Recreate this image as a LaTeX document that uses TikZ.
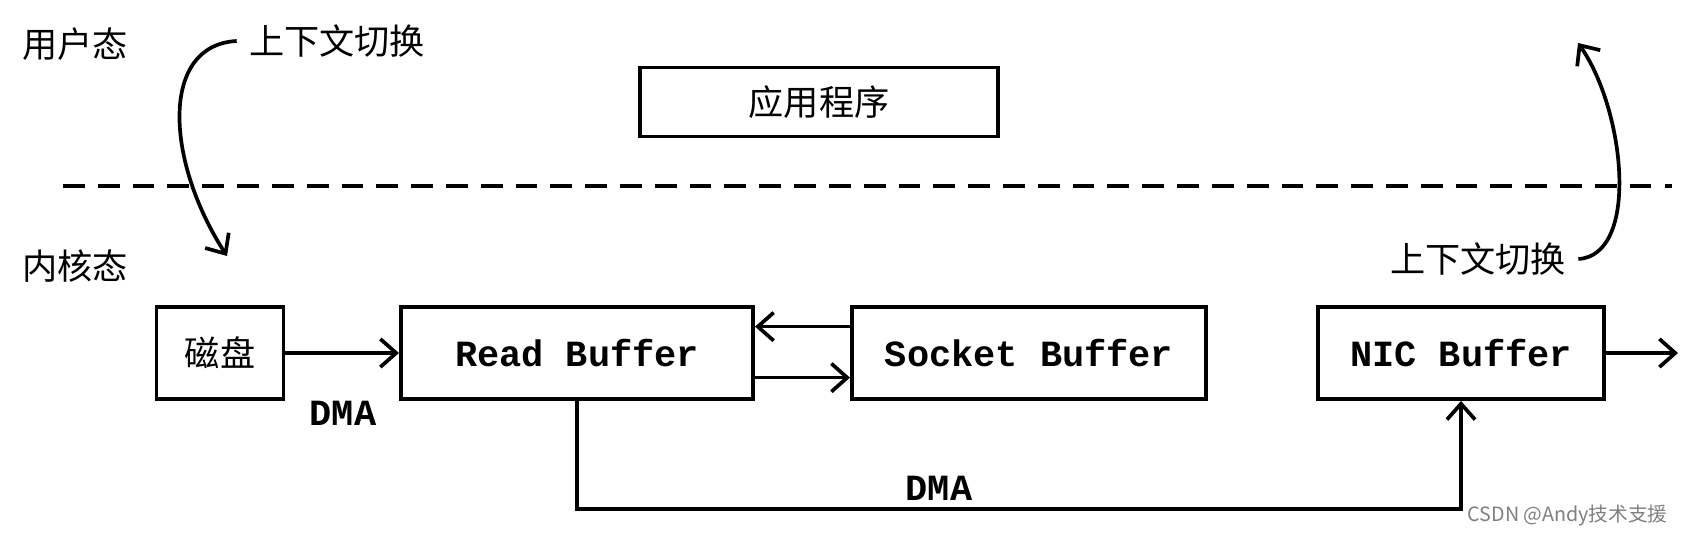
\documentclass[tikz,border=0pt]{standalone}
\usepackage{fontspec}
\setmonofont{Liberation Mono}
\newfontfamily\cjk{Noto Sans CJK SC}
\usetikzlibrary{arrows.meta}

\tikzset{
    buf/.style={draw,line width=1.1pt,minimum height=0.92cm,inner sep=0pt,
        font=\ttfamily\bfseries\fontsize{10.5}{12}\selectfont},
    han/.style={font=\cjk\fontsize{10}{12}\selectfont},
    flow/.style={line width=1.05pt,-{Straight Barb[length=4.5pt,width=8pt]}},
}

\begin{document}
\begin{tikzpicture}[x=0.01cm,y=-0.01cm]
    \useasboundingbox[fill=white] (0,0) rectangle (1692,536);

    % Etiquetas de modo
    \node[han,anchor=west] (user) at (10,44) {用户态};
    \node[han,anchor=west] (kernel) at (10,266) {内核态};

    % Aplicación
    \node[buf,han,minimum width=3.58cm,minimum height=0.69cm] (app) at (819,102) {应用程序};

    % Frontera usuario / núcleo
    \draw[line width=1pt,dash pattern=on 6.2pt off 3.7pt] (63,186) -- (1672,186);

    % Cajas
    \node[buf,han,minimum width=1.27cm] (disk) at (220,353) {磁盘};
    \node[buf,minimum width=3.52cm] (readbuf) at (577,353) {Read Buffer};
    \node[buf,minimum width=3.54cm] (sockbuf) at (1029,353) {Socket Buffer};
    \node[buf,minimum width=2.86cm] (nicbuf) at (1461,353) {NIC Buffer};
    \coordinate (nicout) at (1678,353);

    % Copias
    \draw[flow] (disk) -- (readbuf);
    \node[font=\ttfamily\bfseries\fontsize{10.5}{12}\selectfont] (dma1) at (343,413) {DMA};
    \draw[flow] ([yshift=7.5pt]sockbuf.west) -- ([yshift=7.5pt]readbuf.east);
    \draw[flow] ([yshift=-7pt]readbuf.east) -- ([yshift=-7pt]sockbuf.west);
    \draw[flow] (readbuf.south) -- ++(0,108) -| (nicbuf.south);
    \node[font=\ttfamily\bfseries\fontsize{10.5}{12}\selectfont] (dma2) at (939,488) {DMA};
    \draw[flow] (nicbuf) -- (nicout);

    % Cambios de contexto
    \node[han] (ctx1) at (337,41) {上下文切换};
    \node[han] (ctx2) at (1478,259) {上下文切换};
    \coordinate (down) at (227,256);
    \coordinate (up) at (1578,43);
    \draw[flow] (ctx1.west) .. controls (160,45) and (165,160) .. (down);
    \draw[flow] (ctx2.east) .. controls (1640,255) and (1625,110) .. (up);

    % Marca de agua
    \node[font=\cjk\fontsize{5.6}{7}\selectfont,text=gray,anchor=east] (mark) at (1680,516) {CSDN @Andy技术支援};
\end{tikzpicture}
\end{document}
